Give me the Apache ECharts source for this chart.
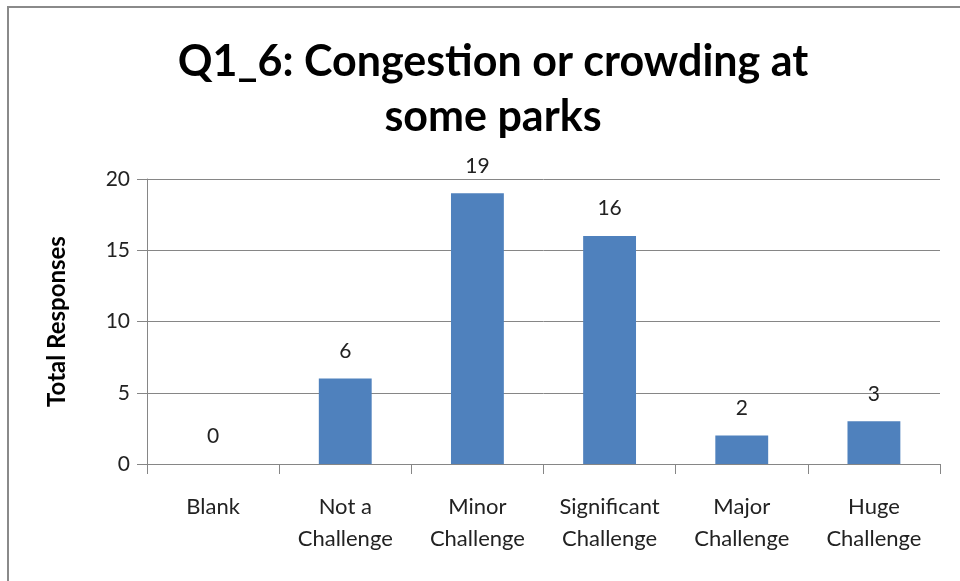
<!DOCTYPE html>
<html>
<head>
<meta charset="utf-8">
<script src="https://cdn.jsdelivr.net/npm/echarts@6/dist/echarts.min.js"></script>
<style>
  html, body { margin: 0; padding: 0; background: #fff; }
  #chart { width: 960px; height: 581px; }
  .frame {
    position: absolute; left: 7px; top: 6px; right: 0; bottom: 0;
    border-top: 2px solid #8a8a8a; border-left: 2px solid #8a8a8a;
    pointer-events: none;
  }
</style>
</head>
<body>
<div id="chart"></div>
<div class="frame"></div>
<script>
const categories = ['Blank', 'Not a\nChallenge', 'Minor\nChallenge', 'Significant\nChallenge', 'Major\nChallenge', 'Huge\nChallenge'];
const responses = [0, 6, 19, 16, 2, 3];
const yTicks = { min: 0, max: 20, interval: 5 };

const chart = echarts.init(document.getElementById('chart'));
const font = 'Lato, "Noto Sans", sans-serif';

chart.setOption({
  animation: false,
  title: {
    text: 'Q1_6: Congestion or crowding at\nsome parks',
    left: 488,
    textAlign: 'center',
    top: 30,
    textStyle: {
      fontFamily: font,
      fontWeight: 'bold',
      fontSize: 43,
      lineHeight: 55,
      color: '#000'
    }
  },
  grid: { left: 147, right: 20, top: 179, bottom: 117 },
  xAxis: {
    type: 'category',
    data: categories,
    axisLine: { lineStyle: { color: '#868686', width: 1 } },
    axisTick: { show: true, length: 10, lineStyle: { color: '#868686' } },
    axisLabel: {
      fontFamily: font,
      fontSize: 22,
      lineHeight: 32,
      color: '#222',
      margin: 27,
      interval: 0
    }
  },
  yAxis: {
    type: 'value',
    min: yTicks.min,
    max: yTicks.max,
    interval: yTicks.interval,
    name: 'Total Responses',
    nameLocation: 'middle',
    nameGap: 78,
    nameTextStyle: { fontFamily: font, fontWeight: 'bold', fontSize: 24, color: '#000' },
    axisLine: { show: true, lineStyle: { color: '#868686' } },
    axisTick: { show: true, length: 10, lineStyle: { color: '#868686' } },
    axisLabel: { fontFamily: font, fontSize: 21, color: '#222', margin: 17 },
    splitLine: { lineStyle: { color: '#868686', width: 1 } }
  },
  series: [{
    type: 'bar',
    data: responses,
    barWidth: '40%',
    itemStyle: { color: '#4f81bd' },
    label: {
      show: true,
      position: 'top',
      distance: 17,
      fontFamily: font,
      fontSize: 21,
      color: '#222'
    }
  }]
});
</script>
</body>
</html>
